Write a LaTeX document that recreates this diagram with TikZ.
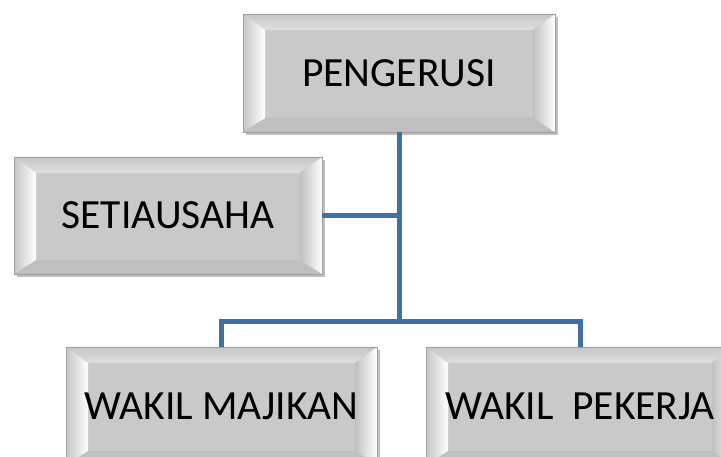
\documentclass[tikz,border=0pt]{standalone}
\usepackage{fontspec}
\setmainfont{Carlito}
\usetikzlibrary{shadows,calc}
\definecolor{conncol}{RGB}{65,113,162}
\definecolor{facecol}{RGB}{201,201,201}
\tikzset{
  bevelbox/.style={rectangle, minimum width=310pt, minimum height=118pt, inner sep=0pt,
    fill=facecol, draw=gray!75, line width=0.8pt,
    font=\fontsize{41.5}{48}\selectfont,
    drop shadow={shadow xshift=2.5pt, shadow yshift=-3pt, opacity=0.25, fill=black},
    path picture={
      \path (path picture bounding box.north west) coordinate (pnw)
            (path picture bounding box.north east) coordinate (pne)
            (path picture bounding box.south west) coordinate (psw)
            (path picture bounding box.south east) coordinate (pse);
      \shade[top color=gray!45, bottom color=gray!25]
        (pnw) -- (pne) -- ([shift={(-22pt,-16pt)}]pne) -- ([shift={(22pt,-16pt)}]pnw) -- cycle;
      \fill[gray!50]
        (psw) -- (pse) -- ([shift={(-22pt,14pt)}]pse) -- ([shift={(22pt,14pt)}]psw) -- cycle;
      \shade[left color=gray!45, right color=white]
        (pnw) -- (psw) -- ([shift={(22pt,14pt)}]psw) -- ([shift={(22pt,-16pt)}]pnw) -- cycle;
      \shade[left color=gray!50, right color=white]
        (pne) -- (pse) -- ([shift={(-22pt,14pt)}]pse) -- ([shift={(-22pt,-16pt)}]pne) -- cycle;
    }},
  conn/.style={draw=conncol, line width=5pt}
}
\begin{document}
\begin{tikzpicture}[x=1pt,y=1pt]
  \useasboundingbox (0,0) rectangle (721,-457);
  \node[bevelbox, minimum width=312pt] (top) at (399,-73) {PENGERUSI};
  \node[bevelbox, minimum width=308pt, minimum height=117pt] (sec) at (168,-215.5) {SETIAUSAHA};
  \node[bevelbox, minimum width=311pt] (wm) at (221.5,-406) {WAKIL MAJIKAN};
  \node[bevelbox, minimum width=308pt] (wp) at (580,-406) {WAKIL\ \ PEKERJA};
  \coordinate (j) at (399,-322);
  \draw[conn] (top.south) -- (j);
  \draw[conn] (sec.east) -- (sec.east -| top.south);
  \draw[conn] (wm.north) -- (wm.north |- j) -- (wp.north |- j) -- (wp.north);
\end{tikzpicture}
\end{document}
